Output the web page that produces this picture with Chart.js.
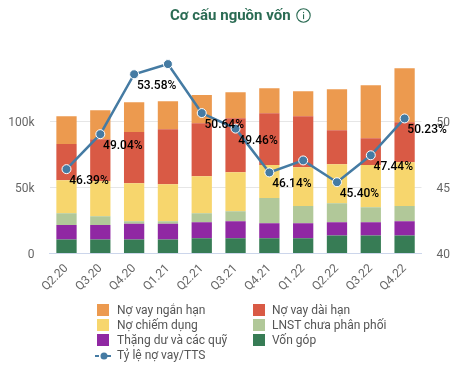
<!DOCTYPE html>
<html><head><meta charset="utf-8">
<script src="https://cdn.jsdelivr.net/npm/chart.js@4"></script>
<style>
html,body{margin:0;padding:0;background:#fff;font-family:Roboto,sans-serif}
#wrap{position:relative;width:464px;height:368px;overflow:hidden}
canvas{position:absolute;left:0;top:0}
#title{position:absolute;left:170px;top:6px;font:bold 15px Roboto;color:#2a6b53;line-height:18px;white-space:nowrap}
#title svg{vertical-align:-3px;margin-left:2px}
.lg{position:absolute;font:12px Roboto;color:#555;line-height:15px;white-space:nowrap}
.sw{position:absolute;width:12px;height:12px}
</style></head><body>
<div id="wrap"><canvas id="c" width="464" height="368"></canvas>
<div id="title">Cơ cấu nguồn vốn <svg width="15" height="15" viewBox="0 0 15 15"><circle cx="7.5" cy="7.5" r="6.7" fill="none" stroke="#2a6b53" stroke-width="1.1"/><rect x="7" y="6.3" width="1.1" height="4.8" fill="#2a6b53"/><rect x="7" y="3.9" width="1.1" height="1.2" fill="#2a6b53"/></svg></div>
<div id="legend"></div></div>
<script>
const categories=["Q2.20","Q3.20","Q4.20","Q1.21","Q2.21","Q3.21","Q4.21","Q1.22","Q2.22","Q3.22","Q4.22"];
const vonGop=[10.6,10.6,10.6,10.6,11.6,11.6,11.6,11.6,13.6,13.6,13.6];
const thangDu=[10.9,10.9,11.9,11.9,12.1,12.9,11.4,11.4,10.1,10.1,10.9];
const lnst=[9,6.8,2,2,6.8,7.5,19,12.9,14.3,11.3,11.4];
const noChiemDung=[25,26.5,28.8,28,28.1,29.6,25,29.5,29.7,32,33.3];
const noVayDaiHan=[27.5,31.8,38.7,41.7,40.1,40.9,39.3,38.6,25.7,20.4,30.3];
const noVayNganHan=[21,22,22.6,21.2,21.3,19.7,18.9,19,31.1,40.1,40.9];
const tyLe=[46.39,49.04,53.58,54.35,50.64,49.46,46.14,47.05,45.40,47.44,50.23];
const tyLeLabels=["46.39%","49.04%","53.58%","","50.64%","49.46%","46.14%","","45.40%","47.44%","50.23%"];
const leftTicks=[0,50,100];
const rightTicks=[40,45,50];

const LINE='#457ba3';
const bar=(label,data,color)=>({type:'bar',label,data,backgroundColor:color,borderWidth:0,stack:'s',yAxisID:'y',order:2,barPercentage:0.6,categoryPercentage:1});
const ds=[
 bar('Vốn góp',vonGop,'#377c55'),
 bar('Thặng dư và các quỹ',thangDu,'#9028a3'),
 bar('LNST chưa phân phối',lnst,'#b1c899'),
 bar('Nợ chiếm dụng',noChiemDung,'#f7d66d'),
 bar('Nợ vay dài hạn',noVayDaiHan,'#d95a45'),
 bar('Nợ vay ngắn hạn',noVayNganHan,'#ec9a4f'),
 {type:'line',label:'Tỷ lệ nợ vay/TTS',data:tyLe,yAxisID:'y1',order:1,borderColor:LINE,borderWidth:2.5,tension:0,
  pointRadius:4.5,pointHoverRadius:4.5,pointBackgroundColor:LINE,pointBorderColor:'#fff',pointBorderWidth:1}
];
const labelPlugin={id:'ratioLabels',afterDatasetsDraw(chart){
  const ctx=chart.ctx,meta=chart.getDatasetMeta(6);
  ctx.save();ctx.font='500 12px Roboto';ctx.fillStyle='#000';ctx.textAlign='center';ctx.textBaseline='middle';
  meta.data.forEach((p,i)=>{if(tyLeLabels[i])ctx.fillText(tyLeLabels[i],p.x+22.5,p.y+12);});
  ctx.restore();
}};
const tickFont={family:'Roboto',size:12,lineHeight:'2px'};
new Chart(document.getElementById('c'),{
 data:{labels:categories,datasets:ds},
 plugins:[labelPlugin],
 options:{responsive:false,animation:false,
  layout:{padding:{top:55.5,left:0,right:0,bottom:0}},
  plugins:{legend:{display:false},tooltip:{enabled:false},title:{display:false}},
  scales:{
   x:{stacked:true,afterFit(s){s.height=114.5;},
      grid:{display:false,drawTicks:false},border:{color:'#ccd6eb',width:1},
      ticks:{minRotation:45,maxRotation:45,autoSkip:false,color:'#666',font:{family:'Roboto',size:12},padding:8}},
   y:{stacked:true,min:0,max:150,position:'left',afterFit(s){s.width=49.6;},
      afterBuildTicks(s){s.ticks=leftTicks.map(v=>({value:v}));},
      grid:{color:'#e6e6e6',drawTicks:false},border:{display:false},
      ticks:{color:'#666',font:tickFont,padding:15,autoSkip:false,callback:v=>['',v===0?'0':v+'k']}},
   y1:{min:40,max:55,position:'right',afterFit(s){s.width=42.5;},
      afterBuildTicks(s){s.ticks=rightTicks.map(v=>({value:v}));},
      grid:{display:false,drawTicks:false},border:{display:false},
      ticks:{color:'#666',font:tickFont,padding:15,autoSkip:false,callback:v=>['',String(v)]}}
  }}
});
const lg=document.getElementById('legend');
const order=[[5,97,117,304],[4,253,272,304],[3,97,117,319],[2,253,272,319],[1,97,117,334],[0,253,272,334]];
order.forEach(([i,sx,tx,y])=>{
  const s=document.createElement('div');s.className='sw';s.style.cssText=`left:${sx}px;top:${y}px;background:${ds[i].backgroundColor}`;lg.appendChild(s);
  const t=document.createElement('div');t.className='lg';t.style.cssText=`left:${tx}px;top:${y-1.5}px`;t.textContent=ds[i].label;lg.appendChild(t);
});
const t=document.createElement('div');t.className='lg';t.style.cssText='left:117px;top:348px';t.textContent=ds[6].label;lg.appendChild(t);
const m=document.createElementNS('http://www.w3.org/2000/svg','svg');m.setAttribute('width','18');m.setAttribute('height','10');m.style.cssText='position:absolute;left:95px;top:351px';
m.innerHTML=`<line x1="0" y1="5" x2="18" y2="5" stroke="${LINE}" stroke-width="2" stroke-dasharray="4 2"/><circle cx="9" cy="5" r="3.5" fill="${LINE}"/>`;lg.appendChild(m);
</script></body></html>
